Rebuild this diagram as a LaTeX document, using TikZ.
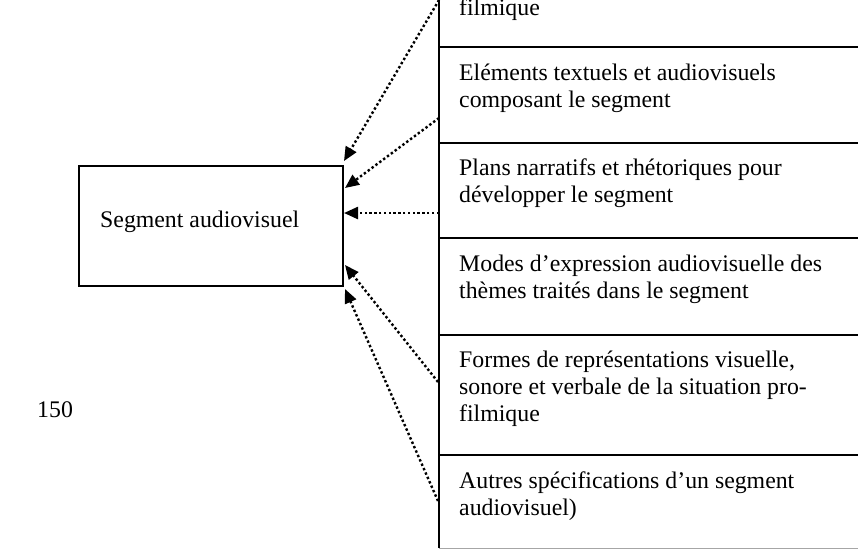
\documentclass[tikz,border=0pt]{standalone}
\usepackage{fontspec}
\setmainfont{Liberation Serif}
\usetikzlibrary{arrows.meta}
\newcommand\mlines[1]{\vtop{\halign{\strut##\hfil\cr#1\crcr}}}
\begin{document}
\begin{tikzpicture}[x=1pt,y=-1pt,
  txt/.style={anchor=base west,inner sep=0pt,font=\fontsize{23.8}{27.4}\selectfont},
  sep/.style={line width=1.8pt},
  dotarrow/.style={line width=2.4pt,dash pattern=on 2.4pt off 2.4pt,-{Triangle[length=14pt,width=12pt]}}]
\useasboundingbox (0,0) rectangle (858,550);
% right column
\draw[sep] (439,0) -- (439,548);
\foreach \y in {47,143,238,335,455} \draw[sep] (439,\y) -- (858,\y);
\draw[gray!70,line width=1pt] (439,548.5) -- (858,548.5);
% texts
\node[txt] (b1) at (459,15) {filmique};
\node[txt] (b2) at (459,80) {\mlines{Eléments textuels et audiovisuels\cr composant le segment}};
\node[txt] (b3) at (459,175) {\mlines{Plans narratifs et rhétoriques pour\cr développer le segment}};
\node[txt] (b4) at (459,271) {\mlines{Modes d’expression audiovisuelle des\cr thèmes traités dans le segment}};
\node[txt] (b5) at (459,367) {\mlines{Formes de représentations visuelle,\cr sonore et verbale de la situation pro-\cr filmique}};
\node[txt] (b6) at (459,488) {\mlines{Autres spécifications d’un segment\cr audiovisuel)}};
% segment box
\node[draw,line width=1.5pt,minimum width=264pt,minimum height=120pt,inner sep=0pt] (seg) at (211,226) {};
\node[txt] (segtxt) at (100,227) {Segment audiovisuel};
\node[txt] (num) at (37,417) {150};
% connectors
\coordinate (s1) at (439,0);
\coordinate (s2) at (439,118);
\coordinate (s3) at (439,213);
\coordinate (s4) at (438,382);
\coordinate (s5) at (438,501);
\coordinate (t1) at (344,161);
\coordinate (t2) at (345,188);
\coordinate (t3) at (344,213);
\coordinate (t4) at (345,265);
\coordinate (t5) at (345,289);
\foreach \i in {1,...,5} \draw[dotarrow] (s\i) -- (t\i);
\end{tikzpicture}
\end{document}
